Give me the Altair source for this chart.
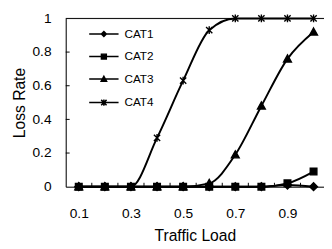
import altair as alt
import pandas as pd

loads = [0.1, 0.2, 0.3, 0.4, 0.5, 0.6, 0.7, 0.8, 0.9, 1.0]
cats = ["CAT1", "CAT2", "CAT3", "CAT4"]
cat1 = [0, 0, 0, 0, 0, 0, 0, 0, 0.01, 0]
cat2 = [0, 0, 0, 0, 0, 0, 0, 0, 0.02, 0.09]
cat3 = [0, 0, 0, 0, 0, 0.02, 0.19, 0.48, 0.76, 0.92]
cat4 = [0, 0, 0, 0.29, 0.63, 0.93, 1.0, 1.0, 1.0, 1.0]
x_labels = [0.1, 0.3, 0.5, 0.7, 0.9]
y_labels = [0, 0.2, 0.4, 0.6, 0.8, 1.0]
x_minor = [0.15, 0.25, 0.35, 0.45, 0.55, 0.65, 0.75, 0.85, 0.95]
y_minor = [0.2, 0.4, 0.6, 0.8]

rows = []
for c, vals in zip(cats, [cat1, cat2, cat3, cat4]):
    for x, v in zip(loads, vals):
        rows.append({"load": x, "cat": c, "rate": v})
df = pd.DataFrame(rows)

marker_paths = [
    "M0,-1L1,0L0,1L-1,0Z",
    "M-0.85,-0.85H0.85V0.85H-0.85Z",
    "M0,-1L1,0.8H-1Z",
    "M-0.8,-0.8L0.8,0.8M0.8,-0.8L-0.8,0.8M0,-1V1",
]
legend_paths = [
    "M-3,0H3M0,-0.5L0.5,0L0,0.5L-0.5,0Z",
    "M-3,0H3M-0.5,-0.5H0.5V0.5H-0.5Z",
    "M-3,0H3M0,-0.55L0.55,0.45H-0.55Z",
    "M-3,0H3M-0.55,-0.55L0.55,0.55M0.55,-0.55L-0.55,0.55M0,-0.65V0.65",
]

W, H = 264, 172
FONT = "Liberation Sans"

xscale = alt.Scale(domain=[0.05, 1.04], nice=False, zero=False)
yscale = alt.Scale(domain=[0, 1], nice=False)

xaxis = alt.Axis(values=x_labels, format="~g", title="Traffic Load", ticks=False, tickSize=0,
                 grid=False, labelPadding=20, labelFontSize=14, titleFontSize=16,
                 titlePadding=8, labelFont=FONT, titleFont=FONT, titleFontWeight="normal",
                 labelColor="black", titleColor="black", domainColor="black",
                 labelOverlap=False)
yaxis = alt.Axis(values=y_labels, format="~g", title="Loss Rate", ticks=False, tickSize=0,
                 grid=False, labelPadding=15, labelFontSize=14, titleFontSize=16,
                 titlePadding=5, labelFont=FONT, titleFont=FONT, titleFontWeight="normal",
                 labelColor="black", titleColor="black", domainColor="black",
                 labelOverlap=False)

base = alt.Chart(df)

lines = base.mark_line(interpolate="monotone", color="black", strokeWidth=2).encode(
    x=alt.X("load:Q", scale=xscale, axis=xaxis, title="Traffic Load"),
    y=alt.Y("rate:Q", scale=yscale, axis=yaxis, title="Loss Rate"),
    detail="cat:N",
)

points = base.mark_point(filled=True, fill="black", stroke="black", strokeWidth=1.4,
                         size=64, opacity=1).encode(
    x=alt.X("load:Q", scale=xscale, axis=xaxis, title="Traffic Load"),
    y=alt.Y("rate:Q", scale=yscale, axis=yaxis, title="Loss Rate"),
    shape=alt.Shape("cat:N", scale=alt.Scale(domain=cats, range=marker_paths), legend=None),
)

legend_layer = base.transform_filter("false").mark_point(
    filled=True, fill="black", stroke="black", strokeWidth=1.5, size=196, opacity=1
).encode(
    x=alt.X("load:Q", scale=xscale, axis=xaxis, title="Traffic Load"),
    y=alt.Y("rate:Q", scale=yscale, axis=yaxis, title="Loss Rate"),
    shape=alt.Shape("cat:N", scale=alt.Scale(domain=cats, range=legend_paths),
                    legend=alt.Legend(orient="none", legendX=33, legendY=10, title=None,
                                      labelFontSize=12, labelFont=FONT, labelColor="black",
                                      labelOffset=15, rowPadding=11, padding=0)),
)

xt = alt.Chart(pd.DataFrame({"load": x_minor})).mark_rule(color="black", strokeWidth=1).encode(
    x=alt.X("load:Q", scale=xscale, axis=xaxis, title="Traffic Load"),
    y=alt.value(H), y2=alt.value(H - 4))
yt = alt.Chart(pd.DataFrame({"rate": y_minor})).mark_rule(color="black", strokeWidth=1).encode(
    y=alt.Y("rate:Q", scale=yscale, axis=yaxis, title="Loss Rate"),
    x=alt.value(0), x2=alt.value(4))
top = alt.Chart(pd.DataFrame({"rate": [1.0]})).mark_rule(color="black", strokeWidth=1).encode(
    y=alt.Y("rate:Q", scale=yscale, axis=yaxis, title="Loss Rate"),
    x=alt.value(0), x2=alt.value(W))

chart = alt.layer(lines, top, xt, yt, points, legend_layer).resolve_scale(
    shape="independent"
).properties(
    width=W, height=H, autosize=alt.AutoSizeParams(type="none"),
    padding={"left": 59, "top": 8, "right": 0, "bottom": 60},
).configure_view(stroke=None).configure(background="white")

chart.save("out.html", embed_options={"renderer": "svg", "actions": False})
